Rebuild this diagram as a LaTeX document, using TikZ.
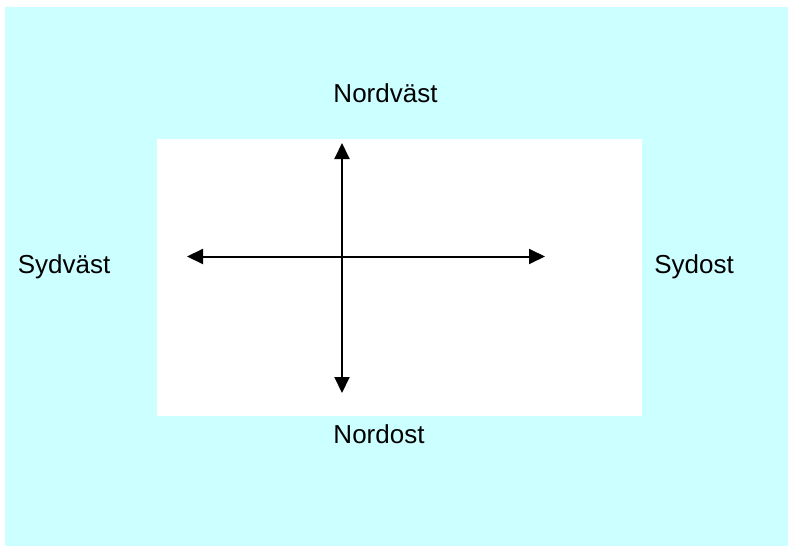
\documentclass[tikz,border=0pt]{standalone}
\usepackage{fontspec}
\setmainfont{Liberation Sans}
\usetikzlibrary{arrows.meta}
\definecolor{skycyan}{HTML}{CCFFFF}
\tikzset{
  compass/.style={font=\fontsize{26}{30}\selectfont, anchor=base, inner sep=0pt},
  axis/.style={line width=2pt, {Triangle[length=16pt,width=15pt]}-{Triangle[length=16pt,width=15pt]}}
}
\begin{document}
\begin{tikzpicture}[x=1pt,y=-1pt]
  % canvas and panels
  \fill[white] (0,0) rectangle (788,546);
  \useasboundingbox (0,0) rectangle (788,546);
  \fill[skycyan] (5,7) rectangle (788,546);
  \fill[white] (157,139) rectangle (642,416);

  % direction labels
  \node[compass] (nv) at (385.5,102.5) {Nordväst};
  \node[compass] (sv) at (64,273) {Sydväst};
  \node[compass] (so) at (694,273) {Sydost};
  \node[compass] (no) at (379,443) {Nordost};

  % arrow end points
  \coordinate (top) at (342,143);
  \coordinate (bottom) at (342,393);
  \coordinate (left) at (187,256.5);
  \coordinate (right) at (545,256.5);

  \draw[axis] (top) -- (bottom);
  \draw[axis] (left) -- (right);
\end{tikzpicture}
\end{document}
